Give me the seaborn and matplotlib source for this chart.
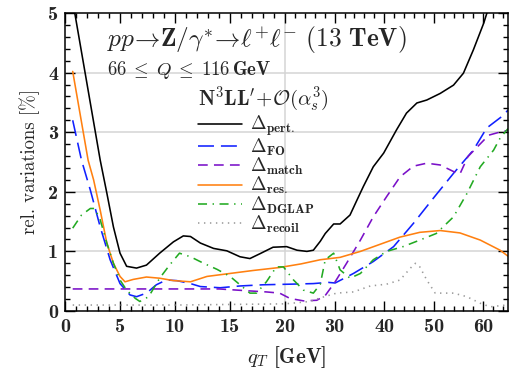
import numpy as np
import pandas as pd
import matplotlib
matplotlib.use("Agg")
import matplotlib.pyplot as plt
import seaborn as sns

# ---------------- data ----------------
q_pert = [0.7, 3.2, 3.8, 4.4, 5.0, 5.6, 6.5, 7.4, 8.6, 9.85, 10.75, 11.4, 12.3, 13.5,
          14.7, 15.9, 16.8, 17.7, 18.9, 20.3, 22.4, 24.4, 25.7, 27.1, 28.1, 29.8, 31.1,
          33.1, 34.5, 35.8, 37.8, 39.9, 42.5, 44.5, 46.6, 48.6, 51.3, 54.0, 56.0, 58.0,
          60.1, 61.5]
v_pert = [5.2, 2.53, 1.98, 1.41, 0.97, 0.75, 0.72, 0.77, 0.97, 1.16, 1.26, 1.25, 1.14, 1.05,
          1.01, 0.91, 0.88, 0.96, 1.07, 1.08, 1.02, 1.0, 1.02, 1.17, 1.30, 1.46, 1.46,
          1.61, 1.86, 2.09, 2.42, 2.65, 3.04, 3.32, 3.49, 3.54, 3.65, 3.79, 3.99, 4.38,
          4.83, 5.2]

q_fo = [0.7, 1.5, 2.3, 3.2, 4.1, 5.0, 5.9, 6.5, 7.4, 8.3, 9.2, 10.15, 11.4, 12.3, 14.1,
        15.9, 18.0, 21.0, 25.7, 28.7, 30.1, 33.8, 37.8, 41.9, 45.9, 49.9, 54.0, 58.0,
        60.7, 63.7, 65.0]
v_fo = [3.2, 2.53, 2.03, 1.41, 0.86, 0.46, 0.27, 0.24, 0.30, 0.44, 0.52, 0.51, 0.46, 0.41, 0.39,
        0.42, 0.44, 0.45, 0.46, 0.48, 0.47, 0.63, 0.83, 1.08, 1.47, 1.89, 2.31, 2.70,
        3.07, 3.26, 3.37]

q_match = [0.7, 5.0, 10.0, 14.0, 16.5, 18.3, 19.5, 21.0, 23.7, 26.4, 28.1, 30.1, 32.4,
           35.2, 37.8, 40.5, 43.2, 45.9, 48.6, 51.3, 54.0, 55.3, 56.9, 61.1, 63.7, 65.0]
v_match = [0.37, 0.37, 0.37, 0.37, 0.34, 0.32, 0.30, 0.21, 0.17, 0.18, 0.26, 0.49, 0.80,
           1.19, 1.58, 1.92, 2.25, 2.43, 2.48, 2.45, 2.34, 2.30, 2.59, 2.95, 3.01, 3.03]

q_res = [0.7, 2.1, 2.6, 3.2, 3.8, 4.4, 5.0, 5.45, 6.2, 7.4, 8.6, 9.85, 11.4, 12.9, 15.0,
         17.1, 19.5, 23.2, 27.1, 31.1, 35.2, 39.2, 43.2, 47.2, 51.3, 55.3, 59.4, 63.4, 65.0]
v_res = [4.02, 2.53, 2.2, 1.69, 1.14, 0.80, 0.58, 0.49, 0.53, 0.57, 0.55, 0.51, 0.49, 0.58, 0.63,
         0.68, 0.73, 0.79, 0.86, 0.90, 1.0, 1.12, 1.24, 1.32, 1.35, 1.31, 1.19, 1.02, 0.92]

q_dglap = [0.7, 1.5, 2.3, 2.7, 3.2, 3.8, 4.4, 5.0, 5.6, 6.4, 6.8, 7.6, 8.6, 9.5, 10.4, 11.4,
           12.6, 13.8, 15.0, 15.9, 16.8, 17.4, 18.3, 19.2, 19.85, 21.7, 23.7, 25.7, 27.1,
           28.1, 29.8, 31.1, 33.1, 35.2, 37.8, 40.5, 43.8, 47.2, 50.5, 54.0, 56.7, 59.4,
           62.1, 63.4, 65.0]
v_dglap = [1.39, 1.61, 1.72, 1.72, 1.53, 1.14, 0.80, 0.52, 0.35, 0.21, 0.16, 0.24, 0.55, 0.77,
           0.97, 0.91, 0.80, 0.70, 0.58, 0.44, 0.30, 0.30, 0.49, 0.74, 0.74, 0.52, 0.35, 0.30,
           0.45, 0.86, 0.97, 0.69, 0.55, 0.63, 0.86, 1.0, 1.08, 1.19, 1.30, 1.58, 1.97, 2.42,
           2.70, 2.90, 3.06]

q_recoil = [0.7, 5.0, 10.0, 15.0, 20.0, 25.0, 27.1, 30.4, 33.8, 37.2, 40.5, 43.2, 45.3,
            46.3, 47.2, 48.6, 50.3, 54.0, 56.7, 59.4, 61.4, 64.6]
v_recoil = [0.10, 0.10, 0.10, 0.11, 0.12, 0.16, 0.22, 0.30, 0.32, 0.42, 0.45, 0.52, 0.72,
            0.80, 0.74, 0.52, 0.30, 0.30, 0.24, 0.13, 0.07, 0.10]

labels = [r"$\mathbf{\Delta}_{\mathbf{pert.}}$", r"$\mathbf{\Delta}_{\mathbf{FO}}$",
          r"$\mathbf{\Delta}_{\mathbf{match}}$", r"$\mathbf{\Delta}_{\mathbf{res.}}$",
          r"$\mathbf{\Delta}_{\mathbf{DGLAP}}$", r"$\mathbf{\Delta}_{\mathbf{recoil}}$"]
legend_title = r"$\mathbf{N^{3}LL}^{\prime}\!+\!\mathcal{O}(\alpha_{s}^{3})$"

x_major = [0, 5, 10, 15, 20, 30, 40, 50, 60]
y_major = [0, 1, 2, 3, 4, 5]

# ---------------- style ----------------
sns.set_style("ticks")
plt.rcParams["font.family"] = ["cmb10", "DejaVu Serif"]
plt.rcParams["mathtext.fontset"] = "cm"
plt.rcParams["lines.scale_dashes"] = False
plt.rcParams["axes.unicode_minus"] = False

fig = plt.figure(figsize=(5.09, 3.85), dpi=100)
ax = fig.add_axes([65 / 509, 74 / 385, 443 / 509, 298 / 385])

BREAK, RATIO = 20.0, 0.45


def fwd(x):
    x = np.asarray(x, dtype=float)
    return np.where(x <= BREAK, x, BREAK + (x - BREAK) * RATIO)


def inv(y):
    y = np.asarray(y, dtype=float)
    return np.where(y <= BREAK, y, BREAK + (y - BREAK) / RATIO)


ax.set_xscale("function", functions=(fwd, inv))

# grid
for yy in y_major[1:-1]:
    ax.axhline(yy, color="#d4d4d4", lw=1.1, zorder=0)
ax.axvline(BREAK, color="#d4d4d4", lw=1.1, zorder=0)

lw = 1.15
series = [
    (q_pert, v_pert, "black", "-"),
    (q_fo, v_fo, "#1020ff", (0, (11.5, 5.0))),
    (q_match, v_match, "#7a10c8", (0, (7.0, 4.5))),
    (q_res, v_res, "#ff8010", "-"),
    (q_dglap, v_dglap, "#22aa22", (0, (6.5, 4.0, 1.0, 4.0))),
    (q_recoil, v_recoil, "#9a9a9a", (0, (1.0, 3.3))),
]
for (qq, vv, col, ls), lab in zip(series, labels):
    df = pd.DataFrame({"q": qq, "v": vv})
    sns.lineplot(data=df, x="q", y="v", ax=ax, color=col, linestyle=ls, lw=lw,
                 label=lab, sort=False, estimator=None)

ax.set_xlim(0, 65)
ax.set_ylim(0, 5)
ax.set_xticks(x_major)
ax.set_xticks(list(range(0, 21)) + list(range(22, 65, 2)), minor=True)
ax.set_yticks(y_major)
ax.set_yticks(np.arange(0, 5.01, 0.2), minor=True)
ax.set_xticklabels([str(t) for t in x_major])
ax.set_yticklabels([str(t) for t in y_major])
ax.tick_params(which="both", direction="in", top=True, right=True, width=1.0, color="black")
ax.tick_params(which="major", length=7)
ax.tick_params(which="minor", length=3.5)
ax.tick_params(labelsize=14.5, pad=5)
for lab in ax.get_xticklabels() + ax.get_yticklabels():
    lab.set_fontfamily("cmb10")
for s in ax.spines.values():
    s.set_linewidth(1.1)
    s.set_color("black")

ax.set_xlabel(r"$\mathbf{\mathit{q}_{\mathit{T}}}$ [GeV]", fontsize=15, labelpad=6)
ax.set_ylabel("rel. variations [%]", fontsize=13.5, fontfamily="cmr10", labelpad=6)

ax.text(0.095, 0.885,
        r"$pp\!\rightarrow\!\mathbf{Z}/\gamma^{*}\!\rightarrow\!\ell^{+}\ell^{-}\ (\mathbf{13\ TeV})$",
        transform=ax.transAxes, fontsize=18.3, ha="left", va="baseline")
ax.text(0.095, 0.792, r"$\mathbf{66}\;\leq\;Q\;\leq\;\mathbf{116}\,\mathbf{GeV}$",
        transform=ax.transAxes, fontsize=13.5, ha="left", va="baseline")

# legend title drawn as text, entries as legend
ax.text((198 - 65) / 443, (311 - 105) / 298, legend_title, transform=ax.transAxes,
        fontsize=15, ha="left", va="baseline")
leg = ax.legend(loc="upper left", bbox_to_anchor=((198 - 65) / 443, (311 - 114) / 298),
                frameon=False, fontsize=13.5, handlelength=2.35, handletextpad=0.45,
                labelspacing=-0.1, borderpad=0, borderaxespad=0)

fig.savefig("out.png", dpi=100)
